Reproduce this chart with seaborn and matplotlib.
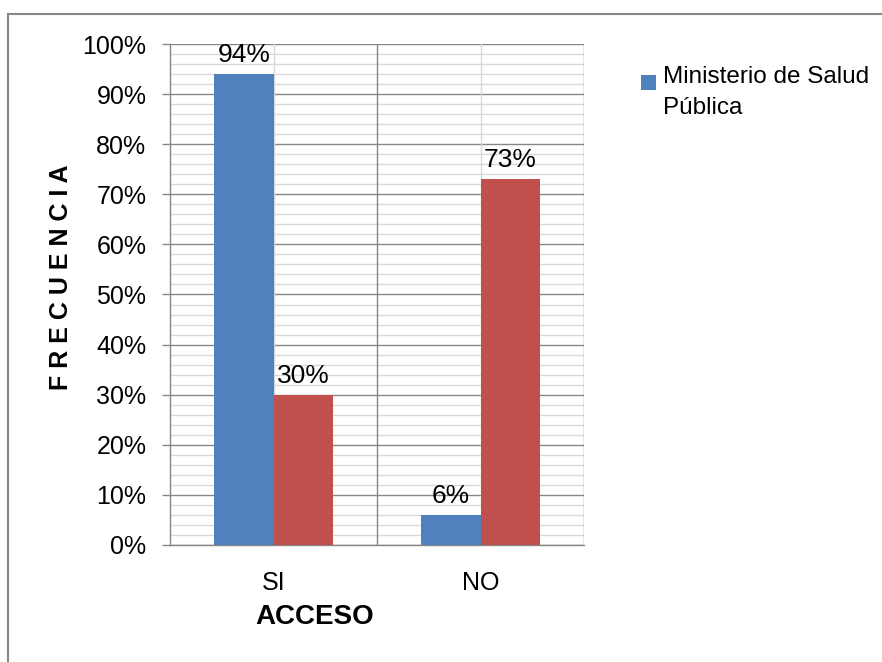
import matplotlib
matplotlib.use("Agg")
import matplotlib.pyplot as plt
from matplotlib.patches import Rectangle, Patch
from matplotlib.legend_handler import HandlerPatch
from matplotlib.ticker import MultipleLocator, FixedLocator, PercentFormatter
import seaborn as sns
import pandas as pd

# ---- data ----
categories = ["SI", "NO"]
series_names = ["Ministerio de Salud Pública", "Otros"]
msp_values = [0.94, 0.06]
other_values = [0.30, 0.73]
colors = ["#4F81BD", "#C0504D"]

df = pd.DataFrame({
    "Acceso": categories * 2,
    "Serie": [series_names[0]] * 2 + [series_names[1]] * 2,
    "Valor": msp_values + other_values,
})

sns.set_theme(style="white")
FONT = ["Liberation Sans", "DejaVu Sans"]
plt.rcParams["font.family"] = FONT

fig = plt.figure(figsize=(8.82, 6.62), dpi=100)
ax = fig.add_axes([170 / 882, 1 - 545 / 662, 414 / 882, 501 / 662])

sns.barplot(data=df, x="Acceso", y="Valor", hue="Serie", order=categories,
            hue_order=series_names, palette=colors, width=0.575, gap=0,
            saturation=1, ax=ax, legend=False, edgecolor="none", zorder=3)

ax.set_xlim(-0.5, 1.5)
ax.set_ylim(0, 1.0)
ax.yaxis.set_major_locator(MultipleLocator(0.1))
ax.yaxis.set_minor_locator(MultipleLocator(0.02))
ax.yaxis.set_major_formatter(PercentFormatter(1.0, decimals=0))
ax.xaxis.set_minor_locator(FixedLocator([0.5, 1.5]))

ax.set_axisbelow(True)
ax.yaxis.set_zorder(0.4)
ax.xaxis.set_zorder(0.6)
ax.grid(which="minor", axis="y", color="#d9d9d9", lw=1.0)
ax.grid(which="major", axis="x", color="#d9d9d9", lw=1.0)
ax.grid(which="major", axis="y", color="#868686", lw=1.0)
ax.grid(which="minor", axis="x", color="#868686", lw=1.0)

for s in ["top", "right"]:
    ax.spines[s].set_visible(False)
for s in ["left", "bottom"]:
    ax.spines[s].set_color("#868686")
    ax.spines[s].set_linewidth(1.0)

ax.tick_params(axis="y", which="major", length=6, width=1, color="#868686",
               pad=11, left=True)
ax.tick_params(axis="y", which="minor", length=0)
ax.tick_params(axis="x", which="both", length=0, pad=19)
for lab in ax.get_yticklabels() + ax.get_xticklabels():
    lab.set_fontsize(18)
    lab.set_color("black")

for cont in ax.containers:
    ax.bar_label(cont, labels=[f"{v*100:.0f}%" for v in cont.datavalues],
                 padding=5, fontsize=19, color="black")

ax.set_xlabel("ACCESO", fontsize=20, fontweight="bold", color="black")
ax.xaxis.set_label_coords(0.35, -0.118)
ax.set_ylabel("F R E C U E N C I A", fontsize=18, fontweight="bold",
              color="black")
ax.yaxis.set_label_coords(-0.235, 0.535)


def top_square(legend, orig_handle, xdescent, ydescent, width, height,
               fontsize):
    s = 0.6 * fontsize
    return Rectangle((-xdescent, -ydescent + height - s - 0.25 * fontsize),
                     s, s, facecolor=orig_handle.get_facecolor(),
                     edgecolor="none")


handle = Patch(facecolor=colors[0], edgecolor="none")
leg = fig.legend([handle], ["Ministerio de Salud\nPública"],
                 loc="upper left", bbox_to_anchor=(641 / 882, 1 - 66 / 662),
                 frameon=False, borderpad=0, borderaxespad=0,
                 handlelength=0.6, handleheight=2.8, handletextpad=0.3,
                 handler_map={Patch: HandlerPatch(patch_func=top_square)},
                 prop={"size": 17.5})
for t in leg.get_texts():
    t.set_linespacing(1.55)
    t.set_color("black")

# outer chart frame
fig.patches.append(Rectangle((8 / 882, -0.1), 1.2, 1 - 14 / 662 + 0.1,
                             transform=fig.transFigure, fill=False,
                             edgecolor="#868686", lw=1.5))

fig.savefig("out.png", dpi=100)
